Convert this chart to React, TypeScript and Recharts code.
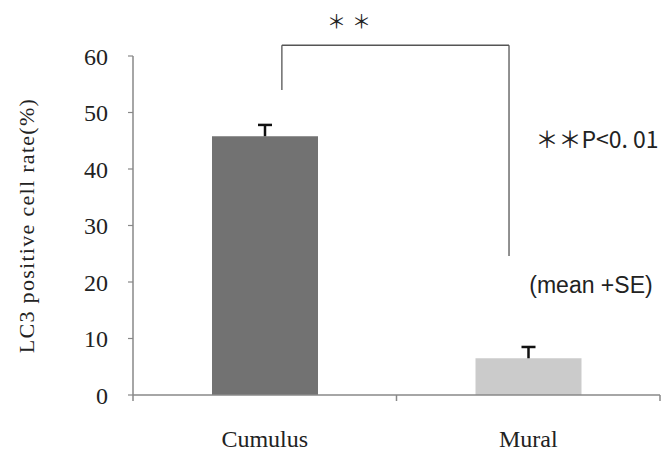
import React from 'react';
import {
  BarChart,
  Bar,
  XAxis,
  YAxis,
  Cell,
  ReferenceLine,
  ReferenceDot,
} from 'recharts';

// ---- data ----
const categories = ['Cumulus', 'Mural'];
const means = [45.8, 6.5];
const errors = [2.0, 2.0];
const barColors = ['#727272', '#cbcbcb'];
const yTicks = [0, 10, 20, 30, 40, 50, 60];
const yLabel = 'LC3 positive cell rate(%)';
const sigLabel = '＊＊';
const pNote = '＊＊P<0. 01';
const statNote = '(mean +SE)';

// bracket (data units: x = category slot position, y = percent)
const bracketLeftX = 0.565;
const bracketRightX = 1.427;
const bracketTopY = 61.9;
const bracketLeftBottomY = 54.0;
const bracketRightBottomY = 24.6;

const data = categories.map((name, i) => ({
  pos: i + 0.5,
  name,
  mean: means[i],
  se: errors[i],
}));

const SERIF = '"Liberation Serif", "DejaVu Serif", serif';
const SANS = '"Liberation Sans", Arial, sans-serif';
const CJK = '"Noto Sans CJK JP", sans-serif';

const CatTick = (props: any) => {
  const { x, y, payload } = props;
  const v = payload.value;
  if (Number.isInteger(v)) {
    return <line x1={x} x2={x} y1={y} y2={y + 6} stroke="#888" strokeWidth={1.5} />;
  }
  const idx = Math.floor(v);
  return (
    <text
      x={x}
      y={y + 46}
      textAnchor="middle"
      dominantBaseline="middle"
      fontFamily={SERIF}
      fontSize={24}
      fill="#222"
    >
      {categories[idx]}
    </text>
  );
};

const ErrShape = (props: any) => {
  const { x, y, width, height } = props;
  const cx = x + width / 2;
  return (
    <g>
      <line x1={cx} x2={cx} y1={y} y2={y + height} stroke="#111" strokeWidth={2.5} />
      <line x1={cx - 7} x2={cx + 7} y1={y} y2={y} stroke="#111" strokeWidth={2.5} />
    </g>
  );
};

export default function App() {
  return (
    <div style={{ position: 'absolute', left: 0, top: 0, width: 670, height: 459, background: '#fff' }}>
      <BarChart
        width={670}
        height={459}
        data={data}
        margin={{ top: 56, right: 10, bottom: 0, left: 0 }}
      >
        <XAxis
          dataKey="pos"
          type="number"
          domain={[0, 2]}
          ticks={[0, 0.5, 1, 1.5, 2]}
          interval={0}
          tick={<CatTick />}
          tickLine={false}
          tickSize={0}
          tickMargin={0}
          axisLine={{ stroke: '#888', strokeWidth: 1.5 }}
          height={64}
          allowDataOverflow
        />
        <YAxis
          domain={[0, 60]}
          ticks={yTicks}
          interval={0}
          width={133}
          tickSize={5}
          tickMargin={20}
          axisLine={{ stroke: '#888', strokeWidth: 1.5 }}
          tickLine={{ stroke: '#888', strokeWidth: 1.2 }}
          tick={{ fontFamily: SERIF, fontSize: 24, fill: '#222' }}
          label={{
            value: yLabel,
            angle: -90,
            position: 'center',
            dx: -40,
            fontFamily: SERIF,
            fontSize: 22,
            fill: '#222',
            letterSpacing: 1.3,
          }}
        />
        <Bar dataKey="mean" stackId="a" barSize={106} isAnimationActive={false}>
          {data.map((d, i) => (
            <Cell key={d.name} fill={barColors[i]} />
          ))}
        </Bar>
        <Bar dataKey="se" stackId="a" barSize={106} isAnimationActive={false} shape={<ErrShape />} />
        <ReferenceLine
          segment={[
            { x: bracketLeftX, y: bracketLeftBottomY },
            { x: bracketLeftX, y: bracketTopY },
          ]}
          stroke="#555"
          strokeWidth={1.3}
          ifOverflow="visible"
        />
        <ReferenceLine
          segment={[
            { x: bracketLeftX, y: bracketTopY },
            { x: bracketRightX, y: bracketTopY },
          ]}
          stroke="#555"
          strokeWidth={1.3}
          ifOverflow="visible"
        />
        <ReferenceLine
          segment={[
            { x: bracketRightX, y: bracketTopY },
            { x: bracketRightX, y: bracketRightBottomY },
          ]}
          stroke="#555"
          strokeWidth={1.3}
          ifOverflow="visible"
        />
        <ReferenceDot
          x={0.831}
          y={66.0}
          r={0}
          fill="none"
          stroke="none"
          ifOverflow="visible"
          label={{ value: sigLabel, position: 'center', fontFamily: CJK, fontSize: 19, fill: '#222', letterSpacing: 6 }}
        />
        <ReferenceDot
          x={1.761}
          y={45.1}
          r={0}
          fill="none"
          stroke="none"
          ifOverflow="visible"
          label={{ value: pNote, position: 'center', fontFamily: CJK, fontSize: 23, fill: '#222' }}
        />
        <ReferenceDot
          x={1.738}
          y={19.5}
          r={0}
          fill="none"
          stroke="none"
          ifOverflow="visible"
          label={{ value: statNote, position: 'center', fontFamily: SANS, fontSize: 23, fill: '#222' }}
        />
      </BarChart>
    </div>
  );
}
